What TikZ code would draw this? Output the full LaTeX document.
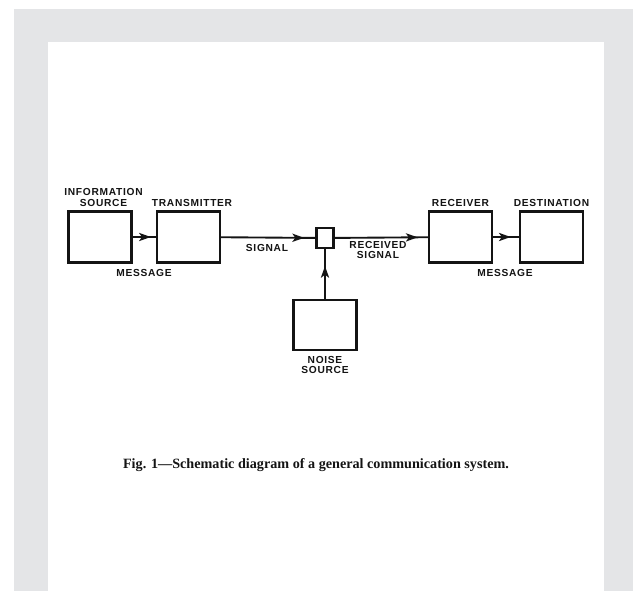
\documentclass[tikz,border=0pt]{standalone}
\usepackage{fontspec}
\setmainfont{Liberation Serif}
\newfontfamily\lblfont[LetterSpace=7]{Liberation Sans}
\usetikzlibrary{arrows.meta,positioning,decorations.markings}
\definecolor{Frame}{HTML}{E4E5E7}
\definecolor{Ink}{HTML}{141414}

\begin{document}
\begin{tikzpicture}[x=0.03cm,y=-0.03cm,
  blk/.style={draw=Ink,line width=1.8pt,minimum width=1.89cm,minimum height=1.53cm,inner sep=0pt},
  lbl/.style={font=\lblfont\bfseries\fontsize{8.7}{9.2}\selectfont,text=Ink,align=center,inner sep=0pt},
  flow/.style={draw=Ink,line width=1.6pt,postaction={decorate,decoration={markings,
      mark=at position #1 with {\arrow{Stealth[length=10pt,width=7pt,inset=2.5pt]}}}}}]
\path[use as bounding box] (0,0) rectangle (633,591);
\fill[Frame] (14,9) rectangle (633,591);
\fill[white] (48,42) rectangle (604,591);

% blocks
\node[blk] (info) at (100,237) {};
\node[blk] (trans) at (188.5,237) {};
\node[blk,minimum width=0.51cm,minimum height=0.6cm] (mix) at (325,238) {};
\node[blk] (recv) at (460.5,237) {};
\node[blk] (dest) at (551.5,237) {};
\node[blk,minimum height=1.5cm] (noise) at (325,325) {};

% connectors
\draw[flow=0.78] (info) -- (trans);
\draw[flow=0.88] (trans) -- (mix);
\draw[flow=0.89] (mix) -- (recv);
\draw[flow=0.68] (recv) -- (dest);
\draw[flow=0.66] (noise) -- (mix);

% labels
\node[lbl,above=3pt of info,xshift=3pt] (infolbl) {INFORMATION\\SOURCE};
\node[lbl,above=3pt of trans,xshift=3pt] (translbl) {TRANSMITTER};
\node[lbl,above=3pt of recv] (recvlbl) {RECEIVER};
\node[lbl,above=3pt of dest] (destlbl) {DESTINATION};
\node[lbl,below=4pt of noise] (noiselbl) {NOISE\\SOURCE};
\node[lbl] (msg1) at (144,273) {MESSAGE};
\node[lbl] (sig) at (267,248) {SIGNAL};
\node[lbl] (rsig) at (378,250) {RECEIVED\\SIGNAL};
\node[lbl] (msg2) at (505,273) {MESSAGE};

\node[font=\bfseries\fontsize{12.1}{14}\selectfont,text=Ink] (caption) at (316,465)
  {Fig. 1---Schematic diagram of a general communication system.};
\end{tikzpicture}
\end{document}
